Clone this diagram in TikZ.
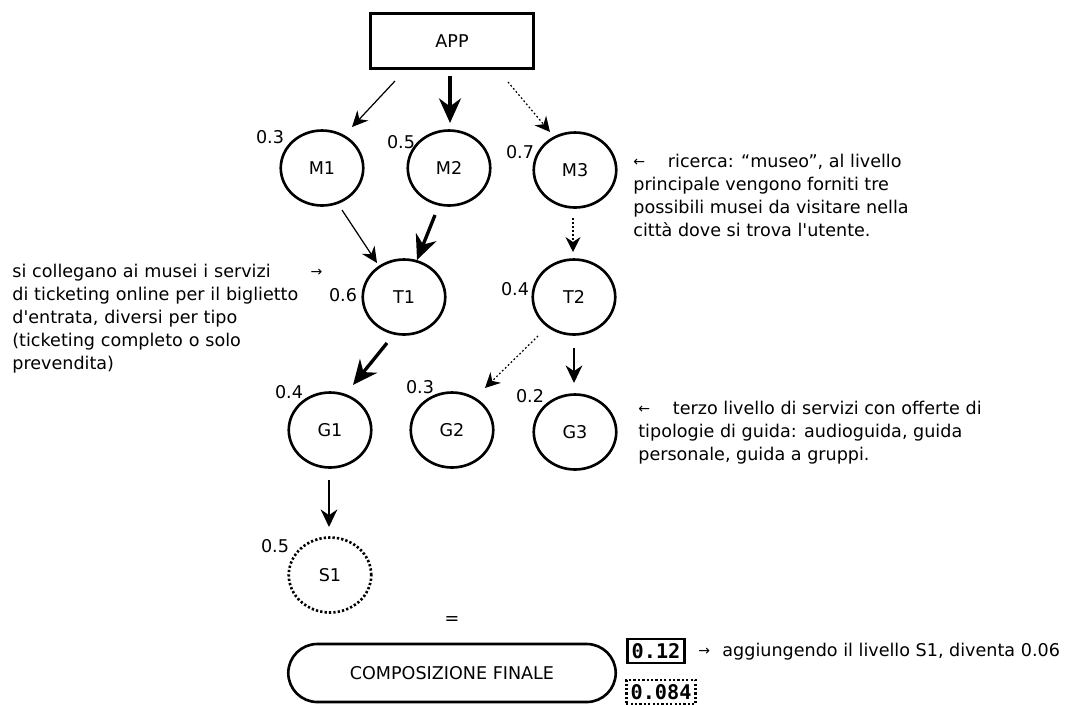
\documentclass[tikz,border=0pt]{standalone}
\usepackage{fontspec}
\setmainfont{DejaVu Sans}
\newfontfamily\cifre{DejaVu Sans Mono}
\usepackage{tikz}
\usetikzlibrary{calc}
\usetikzlibrary{arrows.meta}
\usetikzlibrary{shapes}
\usetikzlibrary{positioning}
\usetikzlibrary{shapes.geometric}
\tikzset{>=latex}
\tikzstyle{servizio} = [ellipse, draw = black, line width = 1.5pt, minimum width = 1.65cm, minimum height = 1.5cm, inner sep = 0]
\tikzstyle{peso} = [draw=none, inner sep = 1]
\tikzstyle{nota} = [draw=none, inner sep = 0, align = left, anchor = north west]
\tikzstyle{sottile} = [-{Stealth[length = 9pt, width = 8.5pt]}, line width = 0.7pt]
\tikzstyle{medio} = [-{Stealth[length = 10pt, width = 9.5pt]}, line width = 1pt]
\tikzstyle{spesso} = [-{Stealth[length = 14pt, width = 12.5pt]}, line width = 1.9pt]
\tikzstyle{punti} = [-{Stealth[length = 8.5pt, width = 8.5pt]}, line width = 0.7pt, dash pattern = on 1pt off 1.3pt]
\newcommand{\frecciadx}{\raisebox{0.5pt}{\fontsize{8}{8}\selectfont →}}
\newcommand{\frecciasx}{\raisebox{0.5pt}{\fontsize{8}{8}\selectfont ←}}

\begin{document}
\begin{tikzpicture}[x = 0.02cm, y = -0.02cm, font = \fontsize{10}{13}\selectfont]
\useasboundingbox (0, 0) rectangle (1068, 704);
\node [rectangle, draw = black, line width = 1.5pt, minimum width = 3.25cm, minimum height = 1.1cm] (APP) at (452, 41) {APP};
\node [servizio] (M1) at (322, 168) {M1};
\node [servizio] (M2) at (449, 168) {M2};
\node [servizio] (M3) at (575, 170) {M3};
\node [servizio] (T1) at (404, 297) {T1};
\node [servizio] (T2) at (574, 297) {T2};
\node [servizio] (G1) at (330, 430) {G1};
\node [servizio] (G2) at (452, 430) {G2};
\node [servizio] (G3) at (575, 432) {G3};
\node [servizio, dash pattern = on 1.3pt off 1.2pt] (S1) at (330, 575) {S1};
\node [peso] (uguale) at (452, 620) {=};
\node [rectangle, rounded corners = 0.58cm, draw = black, line width = 1.5pt, minimum width = 6.55cm, minimum height = 1.16cm] (CF) at (452, 673) {COMPOSIZIONE FINALE};
\node [rectangle, draw = black, line width = 1.5pt, inner sep = 2.5, font = \cifre\bfseries\fontsize{11.5}{12}\selectfont] (R1) at (656, 651) {0.12};
\node [rectangle, draw = black, line width = 1.5pt, dash pattern = on 1.3pt off 1.2pt, inner sep = 2.5, font = \cifre\bfseries\fontsize{11.5}{12}\selectfont] (R2) at (661, 692) {0.084};

% pesi
\node [peso] (pM1) at (270, 137) {0.3};
\node [peso] (pM2) at (401, 142) {0.5};
\node [peso] (pM3) at (520, 152) {0.7};
\node [peso] (pT1) at (343, 295) {0.6};
\node [peso] (pT2) at (515, 289) {0.4};
\node [peso] (pG1) at (289, 392) {0.4};
\node [peso] (pG2) at (420, 387) {0.3};
\node [peso] (pG3) at (530, 396) {0.2};
\node [peso] (pS1) at (275, 546) {0.5};

% note
\node [nota] (notaM) at (633, 154) {\frecciasx\hspace{13pt}ricerca: “museo”, al livello\\principale vengono forniti tre\\possibili musei da visitare nella\\città dove si trova l\textquotesingle utente.};
\node [nota, text width = 6.2cm] (notaT) at (12, 264) {si collegano ai musei i servizi\hfill\frecciadx\\di ticketing online per il biglietto\\d\textquotesingle entrata, diversi per tipo\\(ticketing completo o solo\\prevendita)};
\node [nota] (notaG) at (638, 401) {\frecciasx\hspace{13pt}terzo livello di servizi con offerte di\\tipologie di guida: audioguida, guida\\personale, guida a gruppi.};
\node [draw=none, inner sep = 0, anchor = base west] (notaS) at (698, 656) {\frecciadx\hspace{7pt}aggiungendo il livello S1, diventa 0.06};

\draw [sottile] ($(APP)+(-57,40)$) to ($(M1)+(30,-41)$);
\draw [spesso] ($(APP)+(-2,35)$) to ($(M2)+(1,-45)$);
\draw [punti] ($(APP)+(56,41)$) to ($(M3)+(-25,-38)$);
\draw [sottile] ($(M1)+(20,42)$) to ($(T1)+(-27,-34)$);
\draw [spesso] ($(M2)+(-14,47)$) to ($(T1)+(13,-37)$);
\draw [punti] ($(M3)+(-2,48)$) to ($(T2)+(-1,-45)$);
\draw [spesso] ($(T1)+(-17,46)$) to ($(G1)+(23,-45)$);
\draw [punti] ($(T2)+(-36,39)$) to ($(G2)+(33,-42)$);
\draw [medio] ($(T2)+(0,51)$) to ($(G3)+(-1,-49)$);
\draw [medio] ($(G1)+(-1,50)$) to ($(S1)+(-1,-48)$);
\end{tikzpicture}
\end{document}
